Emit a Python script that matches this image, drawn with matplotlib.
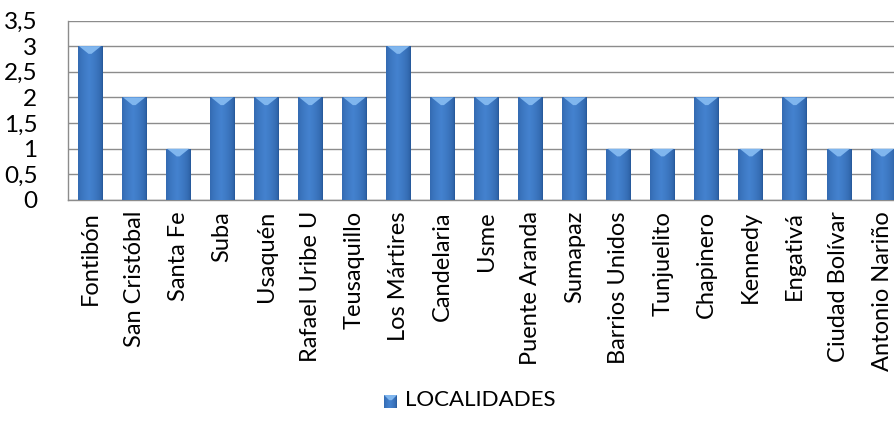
import matplotlib
matplotlib.use("Agg")
import matplotlib.pyplot as plt
import numpy as np
from matplotlib.patches import Polygon, Rectangle
from matplotlib.ticker import FuncFormatter

categories = ["Fontibón", "San Cristóbal", "Santa Fe", "Suba", "Usaquén",
              "Rafael Uribe U", "Teusaquillo", "Los Mártires", "Candelaria",
              "Usme", "Puente Aranda", "Sumapaz", "Barrios Unidos",
              "Tunjuelito", "Chapinero", "Kennedy", "Engativá",
              "Ciudad Bolívar", "Antonio Nariño"]
values = [3, 2, 1, 2, 2, 2, 2, 3, 2, 2, 2, 2, 1, 1, 2, 1, 2, 1, 1]
yticks = [0, 0.5, 1, 1.5, 2, 2.5, 3, 3.5]
series_name = "LOCALIDADES"

plt.rcParams['font.family'] = ['Lato', 'DejaVu Sans']

fig = plt.figure(figsize=(8.94, 4.34), dpi=100)
n = len(categories)
W, H = 894, 434
left_px, bottom_px, top_px = 68, 200, 20.5
right_px = left_px + 44.05 * n
ax = fig.add_axes([left_px / W, 1 - bottom_px / H, (right_px - left_px) / W, (bottom_px - top_px) / H])

x = np.arange(n)
bw = 0.56
ax.set_xlim(-0.5, n - 0.5)
ax.set_ylim(0, 3.5)

grad = np.linspace(0, 1, 64)
prof = 1 - np.abs(grad - 0.45) / 0.55
prof = np.clip(prof, 0, 1) ** 0.4
dark = np.array([0x22, 0x52, 0x92]) / 255
light = np.array([0x44, 0x82, 0xcf]) / 255
img = dark[None, :] + (light - dark)[None, :] * prof[:, None]
img = img[None, :, :]

ax.bar(x, values, width=bw, color="#3a73bd", zorder=2)
for xi, v in zip(x, values):
    x0, x1 = xi - bw / 2, xi + bw / 2
    im = ax.imshow(img, extent=[x0, x1, 0, v], aspect='auto', zorder=3, interpolation='bilinear')
    im.set_clip_path(Rectangle((x0, 0), bw, v, transform=ax.transData))
    th = 0.15
    ax.add_patch(Polygon([[x0 + 0.03, v], [x1 - 0.03, v], [xi + bw * 0.06, v - th], [xi - bw * 0.06, v - th]],
                         closed=True, facecolor="#80b6ee", edgecolor="none", zorder=4))

ax.set_yticks(yticks)
ax.yaxis.set_major_formatter(FuncFormatter(lambda v, p: ("%g" % v).replace(".", ",")))
ax.yaxis.grid(True, color="#8c8c8c", linewidth=1.0, zorder=0)
ax.set_axisbelow(True)
for s in ["top", "right"]:
    ax.spines[s].set_visible(False)
for s in ["left", "bottom"]:
    ax.spines[s].set_color("#8c8c8c")
    ax.spines[s].set_linewidth(1.0)
ax.tick_params(axis='y', length=0, labelsize=17.5, pad=22)
ax.tick_params(axis='x', length=0, labelsize=17, pad=8)
ax.set_xticks(x)
ax.set_xticklabels(categories, rotation=90)

fig.text(405 / W, 1 - 400 / H, series_name, ha='left', va='center', fontsize=16)
lax = fig.add_axes([384 / W, 1 - 408 / H, 13 / W, 13 / H])
lax.imshow(img, extent=[0, 1, 0, 1], aspect='auto', interpolation='bilinear')
lax.add_patch(Polygon([[0, 1], [1, 1], [0.6, 0.6], [0.4, 0.6]], facecolor="#80b6ee", edgecolor='none'))
lax.set_xlim(0, 1); lax.set_ylim(0, 1)
lax.axis('off')

fig.savefig("out.png", dpi=100)
